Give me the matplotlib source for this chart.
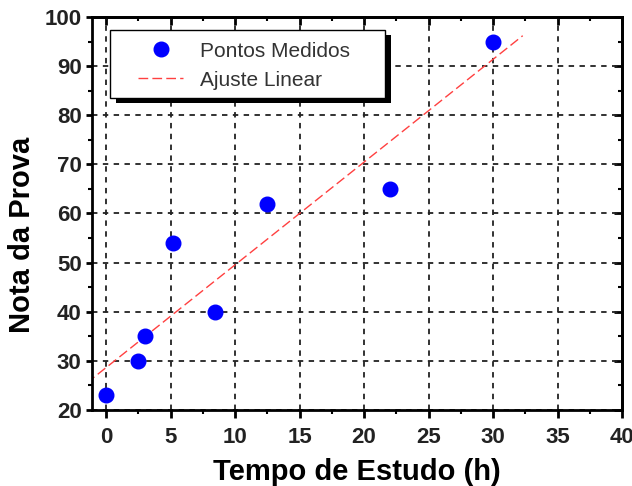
import numpy as np
import matplotlib
matplotlib.use('Agg')
import matplotlib.pyplot as plt
from matplotlib.patches import Rectangle
from matplotlib.ticker import MultipleLocator

# dados
tempo = [0, 2.5, 3, 5.2, 8.4, 12.5, 22, 30]
nota = [23, 30, 35, 54, 40, 62, 65, 95]
ajuste_x = [-1.5, 32.3]

plt.rcParams['font.family'] = ['Liberation Sans', 'DejaVu Sans']

fig = plt.figure(figsize=(6.32, 4.86), dpi=100)
# eixo: x de 92 a 622 px, y de 17 a 410 px
ax = fig.add_axes([92 / 632, 1 - 410 / 486, 530 / 632, 393 / 486])

coef = np.polyfit(tempo, nota, 1)
ajuste_y = np.polyval(coef, ajuste_x)

ax.plot(tempo, nota, 'o', color='#0000ff', ms=10.5, label='Pontos Medidos', zorder=3)
ax.plot(ajuste_x, ajuste_y, '--', color='#ff4040', lw=1.0, dashes=(7, 3),
        label='Ajuste Linear', zorder=2)

ax.set_xlim(-1.1, 40)
ax.set_ylim(20, 100)
ax.xaxis.set_major_locator(MultipleLocator(5))
ax.xaxis.set_minor_locator(MultipleLocator(2.5))
ax.yaxis.set_major_locator(MultipleLocator(10))
ax.yaxis.set_minor_locator(MultipleLocator(5))
ax.grid(True, which='major', color='#222222', linestyle=(0, (3, 3)), linewidth=1.3)
ax.set_axisbelow(True)

for s in ax.spines.values():
    s.set_linewidth(2)

ax.tick_params(axis='x', which='major', direction='out', length=6, width=2, labelsize=16,
               labelcolor='#222222', pad=6)
ax.tick_params(axis='y', which='major', direction='out', length=4.5, width=2, labelsize=16,
               labelcolor='#222222', pad=3)
ax.tick_params(which='minor', direction='out', length=3, width=1.5)
for lab in ax.get_xticklabels() + ax.get_yticklabels():
    lab.set_fontweight('bold')

top = ax.secondary_xaxis('top')
top.xaxis.set_major_locator(MultipleLocator(5))
top.xaxis.set_minor_locator(MultipleLocator(2.5))
top.tick_params(which='major', direction='in', length=6, width=2, labeltop=False)
top.tick_params(which='minor', direction='in', length=3, width=1.5)
top.spines['top'].set_linewidth(2)
right = ax.secondary_yaxis('right')
right.yaxis.set_major_locator(MultipleLocator(10))
right.yaxis.set_minor_locator(MultipleLocator(5))
right.tick_params(which='major', direction='in', length=6, width=2, labelright=False)
right.tick_params(which='minor', direction='in', length=3, width=1.5)
right.spines['right'].set_linewidth(2)

ax.set_xlabel('Tempo de Estudo (h)', fontsize=21, fontweight='bold')
ax.set_ylabel('Nota da Prova', fontsize=21, fontweight='bold')
ax.xaxis.set_label_coords(0.5, -0.123)
ax.yaxis.set_label_coords(-0.106, 0.445)

# caixa da legenda com sombra
ax.add_patch(Rectangle((0.034 + 6 / 530, 0.794 - 5 / 393), 0.519, 0.173, transform=ax.transAxes,
                       facecolor='black', edgecolor='none', zorder=5, clip_on=False))
ax.add_patch(Rectangle((0.034, 0.794), 0.519, 0.173, transform=ax.transAxes,
                       facecolor='white', edgecolor='black', lw=1.0, zorder=5, clip_on=False))

leg = ax.legend(loc='upper left', bbox_to_anchor=(0.087, 0.937), fontsize=15,
                frameon=False, borderpad=0, handlelength=2.16, handletextpad=0.82,
                labelspacing=0.48, borderaxespad=0)
for t in leg.get_texts():
    t.set_color('#333333')
leg.set_zorder(6)

fig.savefig('out.png', dpi=100)
